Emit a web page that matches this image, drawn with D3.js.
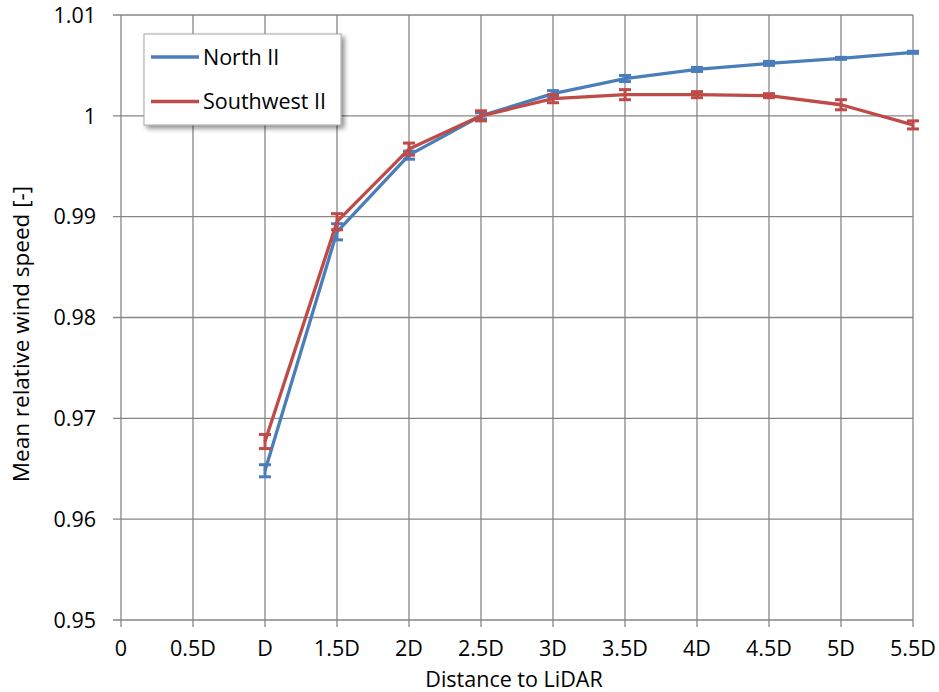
<!doctype html>
<html lang="en">
<head>
  <meta charset="utf-8">
  <title>Mean relative wind speed vs distance to LiDAR</title>
  <script src="https://cdn.jsdelivr.net/npm/d3@7"></script>
  <style>
    html, body { margin: 0; padding: 0; background: #fff; }
    svg { display: block; font-family: "Open Sans", "Noto Sans", sans-serif; }
  </style>
</head>
<body>
<svg id="chart" width="939" height="692"></svg>
<script>

// x categories (multiples of rotor diameter D)
var categoryLabels = ["0", "0.5D", "D", "1.5D", "2D", "2.5D", "3D", "3.5D", "4D", "4.5D", "5D", "5.5D"];
var categoryValues = [0, 0.5, 1, 1.5, 2, 2.5, 3, 3.5, 4, 4.5, 5, 5.5];

// measured positions (D) of both series
var distances = [1, 1.5, 2, 2.5, 3, 3.5, 4, 4.5, 5, 5.5];

var northValues = [0.9648, 0.9885, 0.9961, 1.0000, 1.0022, 1.0037, 1.0046, 1.0052, 1.0057, 1.0063];
var northErrors = [0.0006, 0.0008, 0.0004, 0.0003, 0.0003, 0.0003, 0.0002, 0.0002, 0.0001, 0.0001];

var southwestValues = [0.9677, 0.9895, 0.9967, 1.0000, 1.0017, 1.0021, 1.0021, 1.0020, 1.0011, 0.9991];
var southwestErrors = [0.0007, 0.0008, 0.0006, 0.0005, 0.0004, 0.0005, 0.0003, 0.0002, 0.0005, 0.0004];

var yTicks = [0.95, 0.96, 0.97, 0.98, 0.99, 1, 1.01];
var yTickLabels = ["0.95", "0.96", "0.97", "0.98", "0.99", "1", "1.01"];

var seriesNames = ["North II", "Southwest II"];
var seriesColors = ["#4a7ebb", "#be4b48"];

(function() {

var svg = d3.select("#chart"),
    plotLeft = 121, plotRight = 913, plotTop = 15, plotBottom = 620,
    gridColor = "#868686";

var x = d3.scaleLinear().domain([0, 5.5]).range([plotLeft, plotRight]);
var y = d3.scaleLinear().domain([0.95, 1.01]).range([plotBottom, plotTop]);

// grid
var grid = svg.append("g").attr("stroke", gridColor).attr("stroke-width", 1.3);
grid.selectAll(".hgrid").data(yTicks).enter().append("line")
    .attr("x1", plotLeft - 8).attr("x2", plotRight)
    .attr("y1", function(d) { return y(d); }).attr("y2", function(d) { return y(d); });
grid.selectAll(".vgrid").data(categoryValues).enter().append("line")
    .attr("y1", plotTop).attr("y2", plotBottom + 7)
    .attr("x1", function(d) { return x(d); }).attr("x2", function(d) { return x(d); });

// y axis labels
svg.append("g").selectAll("text").data(yTicks).enter().append("text")
    .attr("x", 96).attr("y", function(d) { return y(d); })
    .attr("dy", "0.36em").attr("text-anchor", "end")
    .attr("font-size", 21.5).attr("fill", "#000")
    .text(function(d, i) { return yTickLabels[i]; });

// x axis labels
svg.append("g").selectAll("text").data(categoryValues).enter().append("text")
    .attr("x", function(d) { return x(d); }).attr("y", 656)
    .attr("text-anchor", "middle")
    .attr("font-size", 21.5).attr("fill", "#000")
    .text(function(d, i) { return categoryLabels[i]; });

svg.append("text")
    .attr("x", 514).attr("y", 687)
    .attr("text-anchor", "middle").attr("font-size", 21.5)
    .text("Distance to LiDAR");

svg.append("text")
    .attr("transform", "translate(29,334) rotate(-90)")
    .attr("text-anchor", "middle").attr("font-size", 22.5)
    .text("Mean relative wind speed [-]");

// series
var series = [
  { name: seriesNames[0], color: seriesColors[0], values: northValues, errors: northErrors },
  { name: seriesNames[1], color: seriesColors[1], values: southwestValues, errors: southwestErrors }
];

var line = d3.line()
    .x(function(d) { return x(d.x); })
    .y(function(d) { return y(d.v); });

series.forEach(function(s) {
  var pts = distances.map(function(dx, i) { return { x: dx, v: s.values[i], e: s.errors[i] }; });
  var g = svg.append("g");

  var bars = g.selectAll(".err").data(pts).enter().append("g")
      .attr("stroke", s.color).attr("stroke-width", 3);
  bars.append("line")
      .attr("x1", function(d) { return x(d.x); }).attr("x2", function(d) { return x(d.x); })
      .attr("y1", function(d) { return y(d.v - d.e); }).attr("y2", function(d) { return y(d.v + d.e); });
  bars.append("line")
      .attr("x1", function(d) { return x(d.x) - 6; }).attr("x2", function(d) { return x(d.x) + 6; })
      .attr("y1", function(d) { return y(d.v + d.e); }).attr("y2", function(d) { return y(d.v + d.e); });
  bars.append("line")
      .attr("x1", function(d) { return x(d.x) - 6; }).attr("x2", function(d) { return x(d.x) + 6; })
      .attr("y1", function(d) { return y(d.v - d.e); }).attr("y2", function(d) { return y(d.v - d.e); });

  g.append("path").datum(pts)
      .attr("d", line)
      .attr("fill", "none")
      .attr("stroke", s.color)
      .attr("stroke-width", 3.3)
      .attr("stroke-linejoin", "round");
});

// legend
var defs = svg.append("defs");
var shadow = defs.append("filter").attr("id", "shadow")
    .attr("x", "-10%").attr("y", "-10%").attr("width", "130%").attr("height", "140%");
shadow.append("feGaussianBlur").attr("in", "SourceAlpha").attr("stdDeviation", 2.5);
shadow.append("feOffset").attr("dx", 3).attr("dy", 3).attr("result", "off");
shadow.append("feComponentTransfer").append("feFuncA").attr("type", "linear").attr("slope", 0.45);
var merge = shadow.append("feMerge");
merge.append("feMergeNode");
merge.append("feMergeNode").attr("in", "SourceGraphic");

var legend = svg.append("g");
legend.append("rect")
    .attr("x", 144).attr("y", 34).attr("width", 197).attr("height", 91)
    .attr("fill", "#fff").attr("stroke", "#a6a6a6").attr("stroke-width", 1)
    .attr("filter", "url(#shadow)");

var legendRows = legend.selectAll(".row").data(series).enter().append("g")
    .attr("transform", function(d, i) { return "translate(0," + (57 + i * 44.5) + ")"; });
legendRows.append("line")
    .attr("x1", 151).attr("x2", 199).attr("y1", 0).attr("y2", 0)
    .attr("stroke", function(d) { return d.color; }).attr("stroke-width", 3.3);
legendRows.append("text")
    .attr("x", 203).attr("dy", "0.36em").attr("font-size", 21.5)
    .text(function(d) { return d.name; });

})();

</script>
</body>
</html>
